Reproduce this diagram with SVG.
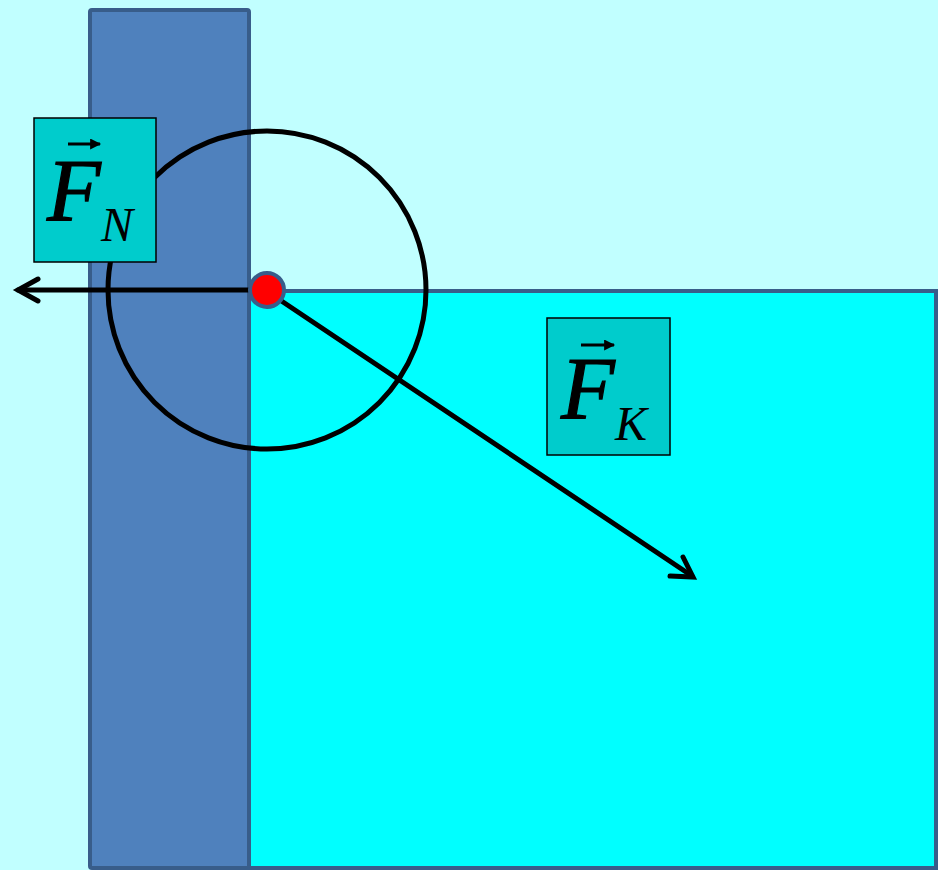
<svg xmlns="http://www.w3.org/2000/svg" width="938" height="870" viewBox="0 0 938 870">
<style>
.wall{fill:#4F81BD;stroke:#385D8A;stroke-width:4}
.water{fill:#00FFFF;stroke:#385D8A;stroke-width:4}
.lbl{fill:#00CCCC;stroke:#000;stroke-width:1.5}
.big{font-family:"Liberation Serif",serif;font-style:italic;font-size:88px;fill:#000;stroke:#000;stroke-width:1.2}
.sub{font-family:"Liberation Serif",serif;font-style:italic;font-size:48px;fill:#000}
.vec{stroke:#000;stroke-width:3;fill:none}
.force{stroke:#000;stroke-width:5;fill:none;stroke-linecap:round}
</style>
<defs>
<marker id="vh" viewBox="0 0 10 10" refX="9" refY="5" markerWidth="12" markerHeight="11" markerUnits="userSpaceOnUse" orient="auto">
<path d="M0,0 L10,5 L0,10 Z" fill="#000"/>
</marker>
</defs>
<rect x="0" y="0" width="938" height="870" fill="#C1FFFF"/>
<g id="wall"><rect class="wall" x="90" y="10" width="159" height="858" rx="2"/></g>
<g id="water"><rect class="water" x="249" y="291" width="687" height="577"/></g>
<g id="connectors">
<circle cx="267" cy="290" r="159" fill="none" stroke="#000" stroke-width="5"/>
<line class="force" x1="249" y1="290" x2="18" y2="290"/>
<path class="force" d="M38,279 L18,290 L38,301"/>
<line class="force" x1="280" y1="300" x2="692" y2="576"/>
<path class="force" d="M683,557 L693,577 L670,576"/>
</g>
<g id="point"><circle cx="267" cy="290" r="17" fill="#FF0000" stroke="#385D8A" stroke-width="4"/></g>
<g id="label-FN">
<rect class="lbl" x="34" y="118" width="122" height="144"/>
<line class="vec" x1="68" y1="144" x2="100" y2="144" marker-end="url(#vh)"/>
<text class="big" x="47" y="220">F</text>
<text class="sub" x="101" y="241">N</text>
</g>
<g id="label-FK">
<rect class="lbl" x="547" y="318" width="123" height="137"/>
<line class="vec" x1="581" y1="345" x2="614" y2="345" marker-end="url(#vh)"/>
<text class="big" x="561" y="418">F</text>
<text class="sub" x="615" y="440">K</text>
</g>
</svg>
